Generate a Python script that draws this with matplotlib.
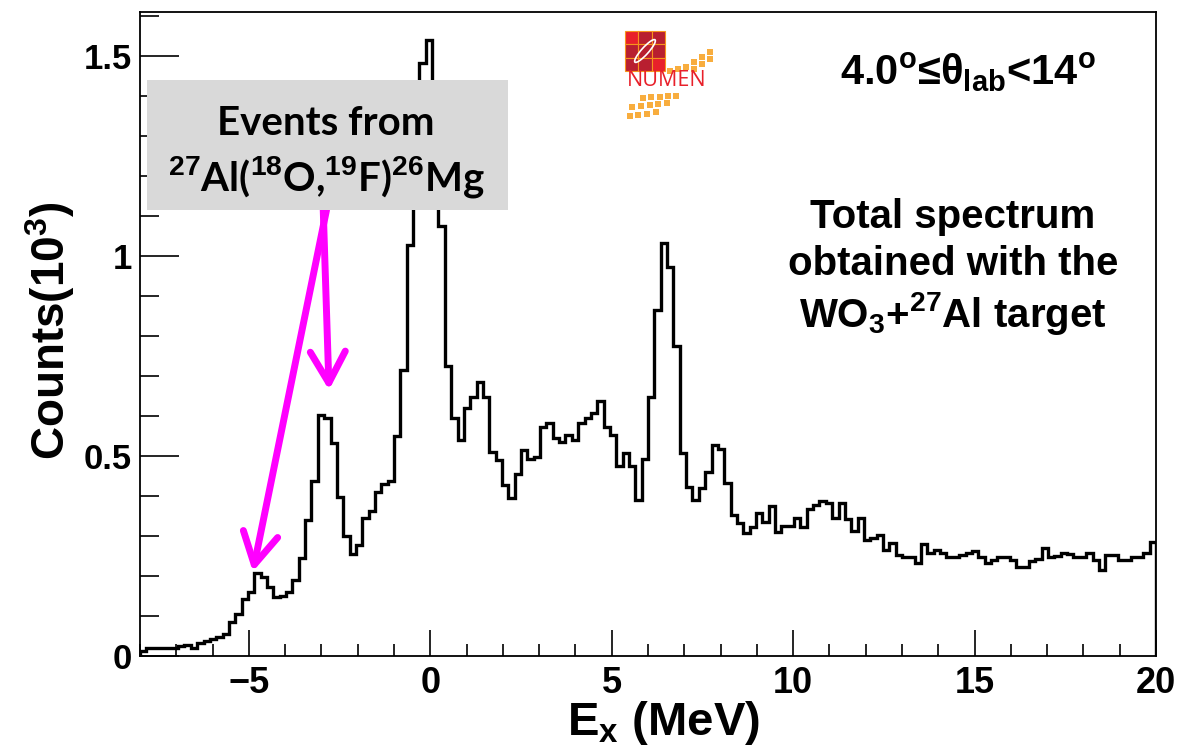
import numpy as np
import matplotlib.pyplot as plt
from matplotlib.patches import Rectangle, Ellipse
from matplotlib.ticker import MultipleLocator, FuncFormatter

# Excitation energy spectrum, 160 bins of 0.175 MeV between -8 and 20 MeV
e_min, e_max, n_bins = -8.0, 20.0, 160
counts = [
    0.013, 0.019, 0.021, 0.019, 0.019, 0.021, 0.025, 0.027, 0.019, 0.033,
    0.038, 0.042, 0.048, 0.054, 0.086, 0.105, 0.142, 0.161, 0.207, 0.197,
    0.173, 0.147, 0.150, 0.161, 0.190, 0.244, 0.340, 0.437, 0.603, 0.595,
    0.532, 0.398, 0.300, 0.255, 0.277, 0.345, 0.362, 0.410, 0.430, 0.438,
    0.550, 0.715, 1.027, 1.250, 1.483, 1.541, 1.200, 1.076, 0.724, 0.594,
    0.540, 0.621, 0.648, 0.684, 0.648, 0.511, 0.490, 0.428, 0.394, 0.455,
    0.515, 0.492, 0.498, 0.572, 0.583, 0.544, 0.536, 0.553, 0.540, 0.583,
    0.594, 0.608, 0.638, 0.572, 0.553, 0.475, 0.508, 0.475, 0.390, 0.492,
    0.648, 0.865, 1.033, 0.973, 0.775, 0.507, 0.423, 0.390, 0.419, 0.461,
    0.528, 0.517, 0.432, 0.353, 0.332, 0.307, 0.322, 0.357, 0.336, 0.375,
    0.311, 0.325, 0.325, 0.346, 0.322, 0.367, 0.378, 0.388, 0.383, 0.344,
    0.383, 0.342, 0.313, 0.346, 0.290, 0.294, 0.302, 0.265, 0.283, 0.253,
    0.247, 0.247, 0.232, 0.280, 0.258, 0.265, 0.257, 0.247, 0.247, 0.253,
    0.258, 0.262, 0.248, 0.233, 0.240, 0.248, 0.248, 0.240, 0.222, 0.222,
    0.238, 0.242, 0.271, 0.247, 0.250, 0.258, 0.254, 0.248, 0.248, 0.258,
    0.240, 0.215, 0.253, 0.253, 0.240, 0.240, 0.247, 0.247, 0.257, 0.286,
]
x_ticks = [-5, 0, 5, 10, 15, 20]
y_ticks = [0, 0.5, 1, 1.5]

# peaks the arrows point at (E, counts) and where the arrows leave the label box
arrow_tips = [(-4.89, 0.211), (-2.79, 0.665)]
arrow_tails = [(-2.86, 1.115), (-2.95, 1.115)]

plt.rcParams['font.family'] = ['Liberation Sans', 'DejaVu Sans']
plt.rcParams['font.weight'] = 'bold'
plt.rcParams['mathtext.fontset'] = 'custom'
plt.rcParams['mathtext.rm'] = 'Liberation Sans:bold'
plt.rcParams['mathtext.bf'] = 'Liberation Sans:bold'
plt.rcParams['mathtext.it'] = 'Liberation Sans:bold'
plt.rcParams['mathtext.default'] = 'bf'

W, H = 1180, 748
fig = plt.figure(figsize=(W / 100, H / 100), dpi=100)


def px(x, y):
    return x / W, 1 - y / H


ax = fig.add_axes([140 / W, (H - 656) / H, (1156 - 140) / W, (656 - 12) / H])
edges = np.linspace(e_min, e_max, n_bins + 1)
ax.stairs(counts, edges, color='black', lw=2.4, zorder=3)
ax.set_xlim(e_min, e_max)
ax.set_ylim(0, 1.61)

ax.set_xticks(x_ticks)
ax.set_yticks(y_ticks)
ax.xaxis.set_minor_locator(MultipleLocator(1))
ax.yaxis.set_minor_locator(MultipleLocator(0.1))
fmt = FuncFormatter(lambda v, p: f'{v:g}'.replace('-', '\u2212'))
ax.xaxis.set_major_formatter(fmt)
ax.yaxis.set_major_formatter(fmt)
ax.tick_params(axis='x', which='major', direction='in', length=19, width=1.2,
               labelsize=26, pad=7)
ax.tick_params(axis='x', which='minor', direction='in', length=9, width=1.2)
ax.tick_params(axis='y', which='major', direction='in', length=28, width=1.2,
               labelsize=25, pad=6)
ax.tick_params(axis='y', which='minor', direction='in', length=14, width=1.2)
for s in ax.spines.values():
    s.set_linewidth(1.3)

# axis titles
fig.text(*px(50, 331), 'Counts(10$^{3}$)', rotation=90, ha='center',
         va='center', fontsize=33)
fig.text(*px(663, 735), 'E$_{x}$ (MeV)', ha='center', va='baseline',
         fontsize=34)

# angular range and description
fig.text(*px(968, 85), '4.0$^{o}$≤θ$_{lab}$<14$^{o}$', ha='center',
         va='baseline', fontsize=30)
for txt, yb in [('Total spectrum', 228), ('obtained with the', 275),
                ('WO$_{3}$+$^{27}$Al target', 327)]:
    fig.text(*px(953, yb), txt, ha='center', va='baseline', fontsize=29)

# arrows to the 26Mg peaks
for tip, tail in zip(arrow_tips, arrow_tails):
    ax.annotate('', xy=tip, xytext=tail, xycoords='data', textcoords='data',
                annotation_clip=False, zorder=6,
                arrowprops=dict(arrowstyle='->,head_length=0.75,head_width=0.42',
                                mutation_scale=30, color='#ff00ff', lw=5,
                                shrinkA=0, shrinkB=0))

# label box
fig.add_artist(Rectangle(px(147, 210), (508 - 147) / W, (210 - 80) / H,
                         transform=fig.transFigure, facecolor='#d9d9d9',
                         edgecolor='none', zorder=5))
fig.text(*px(326, 135), 'Events from', ha='center', va='baseline',
         fontsize=29, family='Lato', weight='bold', zorder=7)
fig.text(*px(326, 190), '$^{27}$Al($^{18}$O,$^{19}$F)$^{26}$Mg', ha='center',
         va='baseline', fontsize=29, family='Lato', weight='bold', zorder=7)

# NUMEN logo
lg = fig.add_axes([618 / W, 1 - 124 / H, 98 / W, 96 / H])
lg.set_xlim(0, 98)
lg.set_ylim(96, 0)
lg.axis('off')
cell = 40 / 3
for i in range(3):
    for j in range(3):
        c = '#e8202a' if (i, j) in [(0, 0), (2, 2)] else '#b81f30'
        lg.add_patch(Rectangle((7 + i * cell, 3 + j * cell), cell, cell,
                               facecolor=c, edgecolor='#f7941d', lw=0.8))
lg.add_patch(Ellipse((27, 23), 30, 7, angle=-48, facecolor='none',
                     edgecolor='white', lw=1.2))
lg.text(49, 53, 'NUMEN', color='#e8202a', ha='center', va='center',
        fontsize=15.5, weight='normal', family='Open Sans')
orange = '#f8ad3e'
upper = [(49, 40), (57, 38), (65, 36), (73, 31), (81, 26), (89, 21),
         (73, 38), (81, 33), (89, 28)]
lower = [(9, 85), (17, 84), (26, 83), (35, 81), (11, 76), (20, 75),
         (29, 74), (37, 73), (46, 72), (22, 67), (30, 66), (39, 66),
         (47, 65), (55, 65)]
for (x, y) in upper + lower:
    lg.add_patch(Rectangle((x, y), 6, 6, facecolor=orange, edgecolor='none'))

fig.savefig('out.png', dpi=100)
